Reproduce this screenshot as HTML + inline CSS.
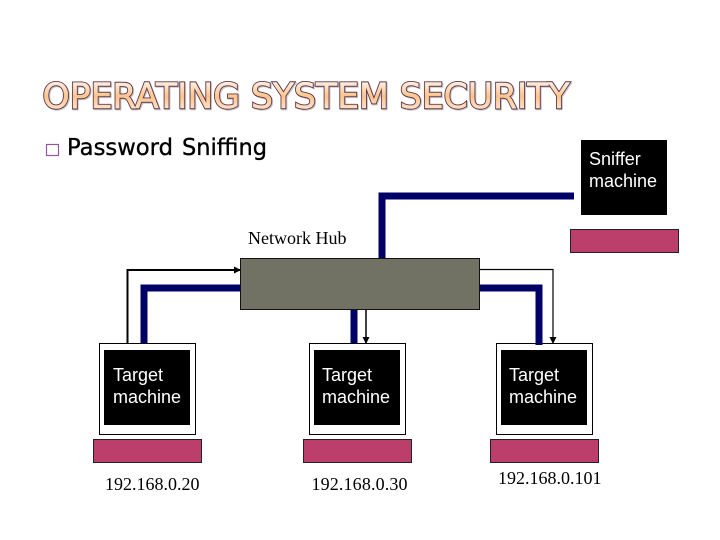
<!DOCTYPE html>
<html><head><meta charset="utf-8"><style>
html,body{margin:0;padding:0;background:#fff;width:720px;height:540px;overflow:hidden}
svg{display:block}
.s{font-family:"Liberation Sans",sans-serif;font-size:18px;fill:#fff}
.t{font-family:"Liberation Serif",serif;font-size:18px;fill:#000}
.p{font-family:"DejaVu Sans",sans-serif;font-size:23px;fill:#000;stroke:#000;stroke-width:.35}
.h{font-family:"DejaVu Sans",sans-serif;font-size:35px}
</style></head><body>
<svg width="720" height="540" viewBox="0 0 720 540" xmlns="http://www.w3.org/2000/svg">
<defs>
<linearGradient id="g" x1="0" y1="0" x2="0" y2="1">
<stop offset="0" stop-color="#fef0e2"/><stop offset=".55" stop-color="#fcc48c"/><stop offset="1" stop-color="#fde0c4"/>
</linearGradient>
<linearGradient id="g2" gradientUnits="userSpaceOnUse" x1="0" y1="82" x2="0" y2="108">
<stop offset="0" stop-color="#fef0e2"/><stop offset=".55" stop-color="#fcc48c"/><stop offset="1" stop-color="#fde0c4"/>
</linearGradient>
<marker id="a" markerWidth="8" markerHeight="8" refX="6" refY="3.5" orient="auto" markerUnits="userSpaceOnUse"><path d="M0 0L7 3.5L0 7z" fill="#000"/></marker>
</defs>
<text class="h" x="43.500" y="109" textLength="527" lengthAdjust="spacingAndGlyphs" fill="none" stroke="#c9c5c9" stroke-width="2.400">OPERATING SYSTEM SECURITY</text>
<text class="h" x="42.500" y="108" textLength="527" lengthAdjust="spacingAndGlyphs" fill="#5e3548" stroke="#5e3548" stroke-width="2.400">OPERATING SYSTEM SECURITY</text>
<text class="h" x="42.500" y="108" textLength="527" lengthAdjust="spacingAndGlyphs" fill="url(#g2)" stroke="url(#g2)" stroke-width=".6">OPERATING SYSTEM SECURITY</text>
<rect x="46.500" y="144.500" width="12" height="11" fill="none" stroke="#8e5a9b" stroke-width="1.200"/>
<text class="p" x="67" y="155" textLength="106" lengthAdjust="spacingAndGlyphs">Password</text>
<text class="p" x="182" y="155" textLength="85" lengthAdjust="spacingAndGlyphs">Sniffing</text>

<rect x="581" y="140" width="86" height="75" fill="#000"/>
<text class="s" x="589" y="165">Sniffer</text>
<text class="s" x="589" y="187">machine</text>
<rect x="570.500" y="229.500" width="108" height="23" fill="#bb3f6a" stroke="#222"/>
<text class="t" x="248" y="244">Network Hub</text>

<g fill="none" stroke="#000066" stroke-width="7">
<path d="M574 196H382V259"/>
<path d="M240 288H144V343"/>
<path d="M354 309V343"/>
<path d="M480 288H539V345"/>
</g>
<g fill="none" stroke="#000">
<path d="M127.500 343V270H240" stroke-width="2" marker-end="url(#a)"/>
<path d="M366 309V343" stroke-width="1.500" marker-end="url(#a)"/>
<path d="M480 269.500H553V343" stroke-width="1.200" marker-end="url(#a)"/>
</g>
<rect x="240.500" y="258.500" width="239" height="51" fill="#717164" stroke="#111"/>

<rect x="99.500" y="343.500" width="96" height="91" fill="#fff" stroke="#000"/>
<rect x="104" y="350" width="86" height="75" fill="#000"/>
<text class="s" x="113" y="381">Target</text><text class="s" x="113" y="403">machine</text>
<rect x="93.500" y="439.500" width="108" height="23" fill="#bb3f6a" stroke="#222"/>
<text class="t" x="105" y="490">192.168.0.20</text>

<rect x="309.500" y="343.500" width="96" height="91" fill="#fff" stroke="#000"/>
<rect x="314" y="350" width="86" height="75" fill="#000"/>
<text class="s" x="322" y="381">Target</text><text class="s" x="322" y="403">machine</text>
<rect x="303.500" y="439.500" width="108" height="23" fill="#bb3f6a" stroke="#222"/>
<text class="t" x="311.500" y="490" textLength="96">192.168.0.30</text>

<rect x="496.500" y="343.500" width="96" height="91" fill="#fff" stroke="#000"/>
<rect x="501" y="350" width="86" height="75" fill="#000"/>
<text class="s" x="509" y="381">Target</text><text class="s" x="509" y="403">machine</text>
<rect x="490.500" y="439.500" width="108" height="23" fill="#bb3f6a" stroke="#222"/>
<text class="t" x="498" y="484">192.168.0.101</text>
<path d="M535.500 343h7v2h-7z" fill="#000066"/>
</svg>
</body></html>
